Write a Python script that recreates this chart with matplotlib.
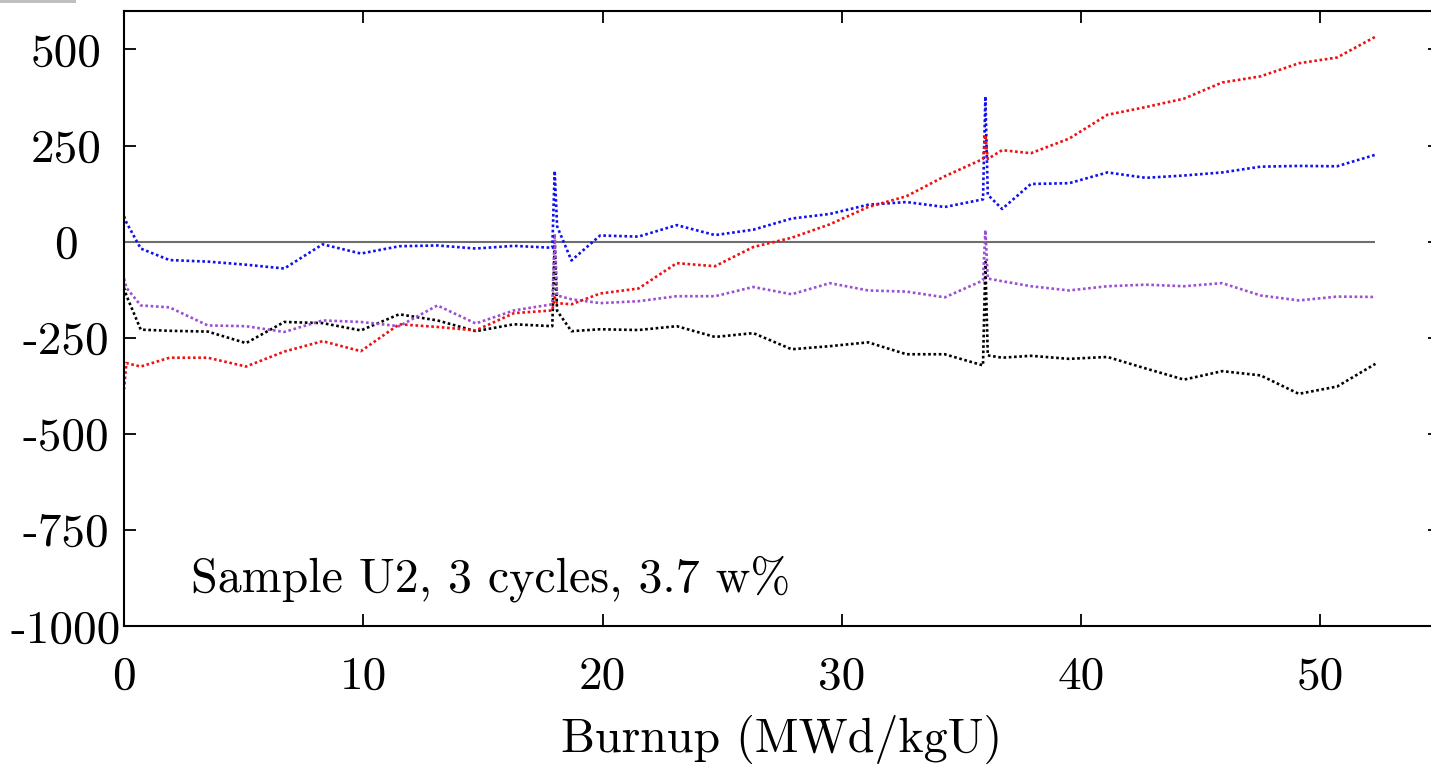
import matplotlib
matplotlib.use("Agg")
import matplotlib.pyplot as plt
from matplotlib.patches import Rectangle

# === data ===
burnup = [0, 0.1, 0.7, 1.9, 3.5, 5.1, 6.7, 8.3, 9.9, 11.5, 13.1, 14.7, 16.3, 17.9,
          18.0, 18.1, 18.7, 19.9, 21.5, 23.1, 24.7, 26.3, 27.9, 29.5, 31.1, 32.7, 34.3, 35.9,
          36.0, 36.1, 36.7, 37.9, 39.5, 41.1, 42.7, 44.3, 45.9, 47.5, 49.1, 50.7, 52.3]

blue = [66, 50, -18, -48, -52, -60, -70, -7, -31, -12, -10, -18, -11, -16,
        184, 40, -49, 16, 13, 43, 17, 31, 60, 72, 96, 103, 90, 110,
        378, 122, 85, 150, 152, 180, 166, 172, 180, 195, 197, 196, 226]

red = [-385, -316, -325, -302, -302, -325, -286, -259, -285, -215, -222, -231, -186, -179,
       -145, -160, -163, -135, -122, -56, -64, -14, 10, 45, 90, 118, 170, 215,
       278, 215, 238, 230, 268, 330, 350, 372, 414, 430, 464, 479, 533]

black = [-120, -140, -229, -232, -234, -264, -209, -212, -231, -189, -205, -233, -215, -220,
         0, -180, -233, -228, -230, -220, -248, -238, -280, -272, -262, -293, -293, -322,
         -53, -296, -302, -297, -305, -300, -330, -359, -337, -348, -396, -377, -318]

purple = [-96, -120, -166, -171, -218, -220, -235, -205, -209, -220, -166, -213, -179, -163,
          20, -140, -150, -160, -155, -142, -142, -118, -137, -108, -127, -130, -145, -101,
          30, -96, -103, -116, -127, -116, -112, -116, -108, -140, -153, -143, -144]

xticks = [0, 10, 20, 30, 40, 50]
yticks = [-1000, -750, -500, -250, 0, 250, 500]
ytick_labels = [str(v) for v in yticks]

# === style ===
plt.rcParams['font.family'] = 'serif'
plt.rcParams['font.serif'] = ['cmr10', 'DejaVu Serif']
plt.rcParams['axes.unicode_minus'] = False

fig = plt.figure(figsize=(14.31, 7.71), dpi=100)
ax = fig.add_axes([124 / 1431, 1 - 626 / 771, (1440 - 124) / 1431, (626 - 11) / 771])

dots = (0, (1, 1))
ax.hlines(0, burnup[0], burnup[-1], color="#6e6e6e", lw=1.5)
ax.plot(burnup, black, color="black", ls=dots, lw=1.9)
ax.plot(burnup, purple, color="#9b4fd2", ls=dots, lw=1.9)
ax.plot(burnup, blue, color="#1010f0", ls=dots, lw=1.9)
ax.plot(burnup, red, color="#ee1111", ls=dots, lw=1.9)

ax.set_xlim(0, 55)
ax.set_ylim(-1000, 600)
ax.set_xticks(xticks)
ax.set_yticks(yticks)
ax.set_yticklabels(ytick_labels)

ax.tick_params(direction="in", length=8.5, width=1.3, top=True, right=True,
               labelsize=34)
ax.tick_params(axis="x", pad=22)
ax.tick_params(axis="y", pad=42)
for lab in ax.get_yticklabels():
    lab.set_horizontalalignment("center")
for s in ax.spines.values():
    s.set_linewidth(1.5)

ax.set_xlabel("Burnup (MWd/kgU)", fontsize=34.5, labelpad=12)
ax.text(2.8, -877, "Sample U2, 3 cycles, 3.7 w%", fontsize=34.5, va="center", ha="left")

# small grey strip at the top-left corner of the reference
fig.add_artist(Rectangle((0, 1 - 3 / 771), 76 / 1431, 3 / 771,
                         transform=fig.transFigure, color="#c0c0c0", lw=0))

fig.savefig("out.png", dpi=100)
